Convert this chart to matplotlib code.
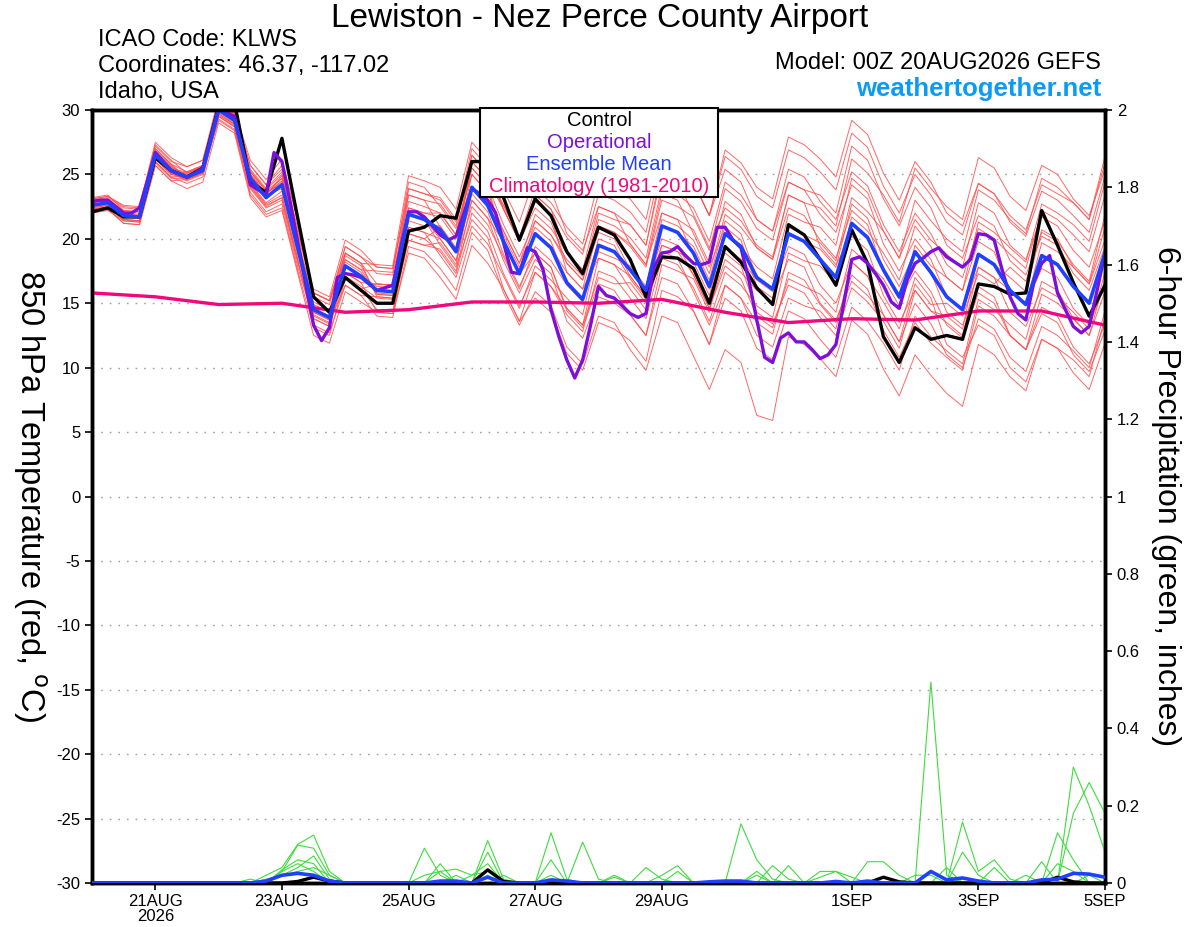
import numpy as np
import matplotlib
matplotlib.use("Agg")
import matplotlib.pyplot as plt
from matplotlib.patches import Rectangle

plt.rcParams['font.family'] = ['Liberation Sans', 'DejaVu Sans']
plt.rcParams['axes.unicode_minus'] = False

# forecast hours from 00Z 20AUG2026
hours = np.arange(0, 385, 6)
op_hours = np.arange(0, 385, 3)
clim_hours = np.arange(0, 385, 24)

tick_hours = [24, 72, 120, 168, 216, 288, 336, 384]
tick_labels = ['21AUG\n2026', '23AUG', '25AUG', '27AUG', '29AUG', '1SEP', '3SEP', '5SEP']

# 850 hPa temperature, deg C
control = [22.1, 22.4, 21.7, 21.7, 26.3, 25.3, 24.8, 25.5, 30.3, 30.6, 24.4, 23.6, 27.8, 21.6, 15.5, 14.3,
           17.0, 16.0, 15.0, 15.0, 20.6, 20.9, 21.8, 21.6, 26.0, 26.0, 23.2, 19.9, 23.1, 21.8, 19.0, 17.3,
           20.9, 20.3, 18.4, 15.5, 18.6, 18.5, 17.7, 15.0, 19.4, 18.2, 16.2, 14.9, 21.1, 20.3, 18.4, 16.4,
           20.7, 18.1, 12.4, 10.4, 13.1, 12.2, 12.5, 12.2, 16.5, 16.3, 15.7, 15.8, 22.2, 19.5, 16.6, 14.0, 16.4]

ens_mean = [22.6, 22.8, 21.8, 21.7, 26.5, 25.3, 24.8, 25.3, 30.0, 29.2, 24.7, 23.2, 24.2, 19.3, 14.5, 13.9,
            17.9, 17.1, 16.0, 15.9, 21.9, 21.5, 20.7, 19.0, 24.0, 22.6, 19.8, 17.3, 20.4, 19.3, 16.6, 15.3,
            19.5, 19.0, 17.6, 16.0, 21.0, 20.5, 18.9, 16.3, 20.4, 19.4, 17.0, 16.1, 20.4, 19.8, 18.4, 17.0,
            21.2, 20.1, 17.6, 15.5, 19.0, 17.4, 15.5, 14.5, 18.8, 18.0, 16.0, 14.9, 18.7, 18.0, 16.3, 15.0, 18.9]

operational = [22.9, 23.0, 23.0, 22.5, 22.0, 22.0, 22.4, 24.5, 26.7, 26.0, 25.3, 25.0, 24.8, 25.1, 25.5, 27.8,
               30.2, 29.8, 29.5, 27.0, 24.2, 23.8, 23.4, 26.7, 26.0, 23.0, 19.7, 16.5, 13.3, 12.1, 13.1, 17.0,
               17.3, 17.2, 17.0, 16.5, 16.0, 16.2, 16.4, 19.3, 22.1, 22.1, 21.7, 21.0, 20.3, 19.9, 20.2, 22.0,
               23.9, 23.5, 23.0, 22.0, 19.7, 17.4, 17.3, 19.3, 19.0, 17.6, 14.5, 12.4, 10.6, 9.2, 10.6, 13.3,
               16.3, 15.6, 15.4, 14.8, 14.2, 13.9, 14.2, 17.8, 18.9, 19.0, 19.4, 18.7, 18.1, 18.0, 18.2, 20.9,
               20.9, 19.9, 19.3, 16.8, 13.7, 10.8, 10.4, 12.3, 12.7, 12.0, 12.0, 11.4, 10.7, 11.0, 11.8, 15.0,
               18.4, 18.6, 18.1, 17.3, 16.4, 15.1, 14.6, 16.8, 18.1, 18.5, 19.0, 19.3, 18.6, 18.2, 17.8, 18.4,
               20.4, 20.3, 19.9, 17.6, 15.5, 14.2, 13.7, 16.6, 18.1, 18.7, 15.8, 14.5, 13.2, 12.7, 13.2, 16.0, 18.9]

climatology = [15.8, 15.5, 14.9, 15.0, 14.3, 14.5, 15.1, 15.1, 15.0, 15.3, 14.3, 13.5, 13.8, 13.7, 14.4, 14.4, 13.3]

# ensemble members
ens_01 = [22.9, 23.1, 22.2, 22.1, 27.0, 25.8, 25.2, 25.7, 30.3, 29.5, 25.4, 23.9, 25.2, 20.3, 15.8, 15.2,
          19.4, 18.6, 17.8, 17.7, 23.9, 23.5, 23.0, 21.3, 26.5, 25.1, 22.6, 20.1, 23.4, 22.3, 20.1, 18.8,
          23.5, 23.0, 22.1, 20.5, 26.0, 25.5, 24.4, 21.8, 26.4, 25.4, 23.3, 22.4, 26.9, 26.3, 25.2, 23.8,
          28.2, 27.1, 24.1, 22.0, 25.0, 23.4, 21.3, 20.3, 24.3, 23.5, 21.3, 20.2, 23.7, 23.0, 21.8, 20.5, 24.9]
ens_02 = [22.3, 22.5, 21.4, 21.3, 26.0, 24.8, 24.3, 24.8, 29.5, 28.7, 24.0, 22.5, 23.2, 18.3, 13.3, 12.7,
          16.4, 15.6, 14.0, 13.9, 19.4, 19.0, 17.7, 16.0, 20.5, 19.1, 15.8, 13.3, 15.9, 14.8, 11.6, 10.3,
          14.0, 13.5, 11.4, 9.8, 14.0, 13.5, 10.9, 8.3, 11.4, 10.4, 6.3, 5.9, 12.4, 11.8, 10.7, 9.3,
          13.7, 12.6, 9.9, 7.8, 11.0, 9.4, 8.0, 7.0, 11.8, 11.0, 9.3, 8.2, 12.2, 11.5, 9.6, 8.3, 11.9]
ens_03 = [23.1, 23.3, 22.6, 22.5, 27.5, 26.3, 25.6, 26.1, 30.5, 29.7, 25.7, 24.2, 25.7, 20.8, 15.8, 15.2,
          18.9, 18.1, 18.0, 17.9, 24.9, 24.5, 24.0, 22.3, 27.5, 26.1, 23.8, 21.3, 24.9, 23.8, 20.4, 19.1,
          22.5, 22.0, 21.1, 19.5, 25.0, 24.5, 21.9, 19.3, 22.4, 21.4, 19.5, 18.6, 23.4, 22.8, 22.4, 21.0,
          26.2, 25.1, 23.4, 21.3, 25.5, 23.9, 22.5, 21.5, 26.3, 25.5, 23.3, 22.2, 25.7, 25.0, 23.1, 21.8, 25.4]
ens_04 = [22.1, 22.3, 21.2, 21.1, 25.7, 24.5, 23.9, 24.4, 29.0, 28.2, 23.2, 21.7, 22.2, 17.3, 12.5, 11.9,
          15.9, 15.1, 14.3, 14.2, 20.4, 20.0, 19.0, 17.3, 22.0, 20.6, 17.3, 14.8, 17.4, 16.3, 14.6, 13.3,
          18.5, 18.0, 17.1, 15.5, 21.0, 20.5, 19.4, 16.8, 21.4, 20.4, 17.0, 16.1, 19.4, 18.8, 16.4, 15.0,
          18.2, 17.1, 14.1, 12.0, 15.0, 13.4, 11.0, 10.0, 13.8, 13.0, 10.8, 9.7, 13.2, 12.5, 11.3, 10.0, 14.4]
ens_05 = [22.8, 23.0, 21.9, 21.8, 26.5, 25.3, 25.1, 25.6, 30.5, 29.7, 25.2, 23.7, 24.7, 19.8, 15.5, 14.9,
          19.4, 18.6, 17.3, 17.2, 22.9, 22.5, 22.0, 20.3, 25.5, 24.1, 21.1, 18.6, 21.4, 20.3, 18.1, 16.8,
          21.5, 21.0, 20.1, 18.5, 24.0, 23.5, 22.4, 19.8, 24.4, 23.4, 21.5, 20.6, 25.4, 24.8, 22.9, 21.5,
          25.2, 24.1, 21.1, 19.0, 22.0, 20.4, 18.0, 17.0, 20.8, 20.0, 18.8, 17.7, 22.2, 21.5, 20.3, 19.0, 23.4]
ens_06 = [22.4, 22.6, 21.9, 21.8, 26.8, 25.6, 24.8, 25.3, 29.7, 28.9, 24.3, 22.8, 23.7, 18.8, 14.5, 13.9,
          18.4, 17.6, 15.8, 15.7, 20.9, 20.5, 20.0, 18.3, 23.5, 22.1, 18.8, 16.3, 18.9, 17.8, 14.4, 13.1,
          16.5, 16.0, 14.1, 12.5, 17.0, 16.5, 14.4, 11.8, 15.4, 14.4, 11.5, 10.6, 14.4, 13.8, 12.2, 10.8,
          14.7, 13.6, 11.9, 9.8, 14.0, 12.4, 11.3, 10.3, 15.3, 14.5, 13.3, 12.2, 16.7, 16.0, 13.8, 12.5, 15.9]
ens_07 = [23.0, 23.2, 22.4, 22.3, 27.2, 26.0, 25.6, 26.1, 31.0, 30.2, 25.2, 23.7, 24.2, 19.3, 14.0, 13.4,
          16.9, 16.1, 16.5, 16.4, 23.9, 23.5, 23.2, 21.5, 27.0, 25.6, 22.3, 19.8, 22.4, 21.3, 18.1, 16.8,
          20.5, 20.0, 17.6, 16.0, 20.0, 19.5, 17.2, 14.6, 17.9, 16.9, 14.0, 13.1, 16.9, 16.3, 15.7, 14.3,
          19.2, 18.1, 16.9, 14.8, 19.5, 17.9, 17.0, 16.0, 21.3, 20.5, 19.3, 18.2, 22.7, 22.0, 21.1, 19.8, 24.4]
ens_08 = [22.2, 22.4, 21.5, 21.4, 26.2, 25.0, 24.7, 25.2, 30.0, 29.2, 25.0, 23.5, 24.7, 19.8, 14.5, 13.9,
          17.4, 16.6, 14.3, 14.2, 18.9, 18.5, 17.0, 15.3, 19.5, 18.1, 16.1, 13.6, 17.4, 16.3, 14.1, 12.8,
          17.5, 17.0, 15.4, 13.8, 18.5, 18.0, 16.2, 13.6, 17.4, 16.4, 14.8, 13.9, 18.9, 18.3, 17.9, 16.5,
          21.7, 20.6, 18.9, 16.8, 21.0, 19.4, 17.0, 16.0, 19.8, 19.0, 16.0, 14.9, 17.7, 17.0, 14.6, 13.3, 16.4]
ens_09 = [22.7, 22.9, 22.0, 21.9, 26.8, 25.6, 24.6, 25.1, 29.3, 28.5, 23.6, 22.1, 22.7, 17.8, 13.8, 13.2,
          17.9, 17.1, 16.3, 16.2, 22.4, 22.0, 22.0, 20.3, 26.0, 24.6, 22.6, 20.1, 23.9, 22.8, 20.9, 19.6,
          24.5, 24.0, 23.1, 21.5, 27.0, 26.5, 24.4, 21.8, 25.4, 24.4, 21.5, 20.6, 24.4, 23.8, 21.9, 20.5,
          24.2, 23.1, 19.6, 17.5, 20.0, 18.4, 15.5, 14.5, 17.8, 17.0, 14.3, 13.2, 16.2, 15.5, 14.3, 13.0, 17.4]
ens_10 = [22.5, 22.7, 21.5, 21.4, 26.0, 24.8, 24.9, 25.4, 30.7, 29.9, 25.7, 24.2, 25.4, 20.5, 16.1, 15.5,
          19.9, 19.1, 17.8, 17.7, 23.4, 23.0, 20.9, 19.2, 23.0, 21.6, 18.3, 15.8, 18.4, 17.3, 13.6, 12.3,
          15.5, 15.0, 14.1, 12.5, 18.0, 17.5, 16.9, 14.3, 19.4, 18.4, 16.8, 15.9, 20.9, 20.3, 19.7, 18.3,
          23.2, 22.1, 20.6, 18.5, 23.0, 21.4, 20.0, 19.0, 23.8, 23.0, 21.5, 20.4, 24.7, 24.0, 22.8, 21.5, 25.9]
ens_11 = [23.2, 23.4, 22.2, 22.1, 26.7, 25.5, 25.0, 25.5, 30.2, 29.4, 25.0, 23.5, 24.5, 19.6, 14.3, 13.7,
          17.1, 16.3, 15.4, 15.3, 21.4, 21.0, 21.0, 19.3, 25.0, 23.6, 20.6, 18.1, 20.9, 19.8, 16.6, 15.3,
          19.0, 18.5, 17.9, 16.3, 22.0, 21.5, 20.7, 18.1, 22.9, 21.9, 19.3, 18.4, 22.4, 21.8, 19.9, 18.5,
          22.2, 21.1, 17.4, 15.3, 17.5, 15.9, 13.3, 12.3, 15.8, 15.0, 12.5, 11.4, 14.7, 14.0, 11.6, 10.3, 13.4]
ens_12 = [22.0, 22.2, 21.4, 21.3, 26.3, 25.1, 24.6, 25.1, 29.8, 29.0, 24.2, 22.7, 23.4, 18.5, 14.6, 14.0,
          18.9, 18.1, 16.5, 16.4, 21.9, 21.5, 19.5, 17.8, 21.5, 20.1, 16.1, 13.6, 15.4, 14.3, 11.1, 9.8,
          13.5, 13.0, 12.1, 10.5, 16.0, 15.5, 14.4, 11.8, 16.4, 15.4, 13.5, 12.6, 17.4, 16.8, 14.9, 13.5,
          17.2, 16.1, 12.9, 10.8, 13.5, 11.9, 10.8, 9.8, 14.8, 14.0, 12.5, 11.4, 15.7, 15.0, 13.8, 12.5, 16.9]
ens_13 = [22.9, 23.1, 21.8, 21.7, 26.2, 25.0, 25.1, 25.6, 30.8, 30.0, 26.1, 24.6, 26.2, 21.3, 15.8, 15.2,
          18.4, 17.6, 17.5, 17.4, 24.4, 24.0, 22.5, 20.8, 25.0, 23.6, 20.3, 17.8, 20.4, 19.3, 17.4, 16.1,
          21.0, 20.5, 19.4, 17.8, 23.0, 22.5, 21.7, 19.1, 23.9, 22.9, 20.8, 19.9, 24.4, 23.8, 23.4, 22.0,
          27.2, 26.1, 23.1, 21.0, 24.0, 22.4, 19.5, 18.5, 21.8, 21.0, 18.3, 17.2, 20.2, 19.5, 17.3, 16.0, 19.4]
ens_14 = [22.3, 22.5, 21.9, 21.8, 27.0, 25.8, 24.7, 25.2, 29.2, 28.4, 23.4, 21.9, 22.4, 17.5, 13.1, 12.5,
          16.9, 16.1, 14.5, 14.4, 19.9, 19.5, 19.7, 18.0, 24.0, 22.6, 20.6, 18.1, 21.9, 20.8, 18.9, 17.6,
          22.5, 22.0, 19.6, 18.0, 22.0, 21.5, 18.7, 16.1, 18.9, 17.9, 14.3, 13.4, 16.4, 15.8, 13.9, 12.5,
          16.2, 15.1, 13.6, 11.5, 16.0, 14.4, 13.5, 12.5, 17.8, 17.0, 16.0, 14.9, 19.7, 19.0, 17.8, 16.5, 20.9]
ens_15 = [22.6, 22.8, 21.5, 21.4, 25.9, 24.7, 24.7, 25.2, 30.3, 29.5, 25.3, 23.8, 25.0, 20.1, 14.9, 14.3,
          17.9, 17.1, 16.0, 15.9, 21.9, 21.5, 20.0, 18.3, 22.5, 21.1, 18.6, 16.1, 19.4, 18.3, 16.4, 15.1,
          20.0, 19.5, 17.1, 15.5, 19.5, 19.0, 18.2, 15.6, 20.4, 19.4, 17.8, 16.9, 21.9, 21.3, 20.9, 19.5,
          24.7, 23.6, 20.6, 18.5, 21.5, 19.9, 18.8, 17.8, 22.8, 22.0, 19.5, 18.4, 21.7, 21.0, 19.1, 17.8, 21.4]
ens_16 = [23.1, 23.3, 22.5, 22.4, 27.3, 26.1, 25.1, 25.6, 29.7, 28.9, 24.1, 22.6, 23.2, 18.3, 13.8, 13.2,
          17.4, 16.6, 16.5, 16.4, 23.4, 23.0, 22.7, 21.0, 26.5, 25.1, 22.3, 19.8, 22.9, 21.8, 17.4, 16.1,
          18.5, 18.0, 16.1, 14.5, 19.0, 18.5, 15.9, 13.3, 16.4, 15.4, 12.5, 11.6, 15.4, 14.8, 14.4, 13.0,
          18.2, 17.1, 15.1, 13.0, 17.0, 15.4, 11.8, 10.8, 13.3, 12.5, 10.0, 8.9, 12.2, 11.5, 10.6, 9.3, 13.9]
ens_17 = [22.1, 22.3, 21.2, 21.1, 25.7, 24.5, 24.6, 25.1, 30.4, 29.6, 25.0, 23.5, 24.4, 19.5, 15.1, 14.5,
          18.9, 18.1, 15.5, 15.4, 19.9, 19.5, 19.2, 17.5, 23.0, 21.6, 19.8, 17.3, 21.4, 20.3, 18.4, 17.1,
          22.0, 21.5, 21.1, 19.5, 25.5, 25.0, 24.4, 21.8, 26.9, 25.9, 24.0, 23.1, 27.9, 27.3, 26.2, 24.8,
          29.2, 28.1, 25.1, 23.0, 26.0, 24.4, 22.0, 21.0, 24.3, 23.5, 21.8, 20.7, 24.2, 23.5, 22.8, 21.5, 26.4]
ens_18 = [22.8, 23.0, 22.1, 22.0, 26.9, 25.7, 24.8, 25.3, 29.6, 28.8, 24.9, 23.4, 24.9, 20.0, 14.1, 13.5,
          16.4, 15.6, 15.5, 15.4, 22.4, 22.0, 21.7, 20.0, 25.5, 24.1, 19.8, 17.3, 18.9, 17.8, 14.6, 13.3,
          17.0, 16.5, 16.6, 15.0, 21.5, 21.0, 19.9, 17.3, 21.9, 20.9, 19.3, 18.4, 23.4, 22.8, 19.4, 18.0,
          20.2, 19.1, 15.6, 13.5, 16.0, 14.4, 14.0, 13.0, 18.8, 18.0, 17.0, 15.9, 20.7, 20.0, 17.8, 16.5, 19.9]
ens_19 = [22.4, 22.6, 21.8, 21.7, 26.6, 25.4, 25.2, 25.7, 30.6, 29.8, 24.9, 23.4, 23.9, 19.0, 14.5, 13.9,
          18.2, 17.4, 15.7, 15.6, 20.9, 20.5, 18.7, 17.0, 21.0, 19.6, 17.1, 14.6, 17.9, 16.8, 15.4, 14.1,
          19.5, 19.0, 16.9, 15.3, 19.5, 19.0, 17.2, 14.6, 18.4, 17.4, 16.0, 15.1, 20.4, 19.8, 19.2, 17.8,
          22.7, 21.6, 18.4, 16.3, 19.0, 17.4, 14.3, 13.3, 16.3, 15.5, 12.5, 11.4, 14.2, 13.5, 11.0, 9.7, 12.9]
ens_20 = [22.6, 22.8, 21.7, 21.6, 26.3, 25.1, 24.5, 25.0, 29.5, 28.7, 23.9, 22.4, 23.0, 18.1, 14.3, 13.7,
          18.7, 17.9, 15.7, 15.6, 20.4, 20.0, 20.9, 19.2, 26.0, 24.6, 22.3, 19.8, 23.4, 22.3, 18.9, 17.6,
          21.0, 20.5, 19.6, 18.0, 23.5, 23.0, 20.4, 17.8, 20.9, 19.9, 16.3, 15.4, 18.4, 17.8, 15.0, 13.7,
          16.7, 15.6, 14.1, 12.0, 16.5, 14.9, 15.0, 14.0, 17.3, 16.5, 17.8, 16.7, 20.5, 19.8, 18.0, 16.7, 21.9]
members = [ens_01, ens_02, ens_03, ens_04, ens_05, ens_06, ens_07, ens_08, ens_09, ens_10,
           ens_11, ens_12, ens_13, ens_14, ens_15, ens_16, ens_17, ens_18, ens_19, ens_20]

# 6-hour precipitation (inches), only non-zero steps listed (step index: value)
pcp_01 = {11: 0.02, 12: 0.04, 13: 0.10, 14: 0.124, 15: 0.03, 22: 0.05, 25: 0.11, 26: 0.01, 29: 0.13,
          30: 0.01, 41: 0.153, 42: 0.06, 43: 0.01, 53: 0.52, 54: 0.02, 62: 0.30, 63: 0.20, 64: 0.08}
pcp_02 = {12: 0.03, 13: 0.098, 14: 0.09, 15: 0.02, 21: 0.09, 22: 0.02, 25: 0.08, 31: 0.106, 32: 0.01,
          55: 0.158, 56: 0.03, 57: 0.06, 58: 0.01, 62: 0.18, 63: 0.26, 64: 0.18}
pcp_03 = {12: 0.034, 13: 0.06, 14: 0.05, 22: 0.03, 23: 0.036, 24: 0.02, 25: 0.05, 29: 0.06, 36: 0.02,
          37: 0.045, 43: 0.045, 44: 0.01, 49: 0.055, 50: 0.055, 51: 0.02, 55: 0.08, 56: 0.02, 61: 0.13, 62: 0.06}
pcp_04 = {11: 0.01, 12: 0.02, 13: 0.04, 14: 0.07, 15: 0.01, 21: 0.02, 22: 0.03, 24: 0.02, 25: 0.03,
          33: 0.02, 35: 0.04, 36: 0.01, 42: 0.03, 44: 0.045, 46: 0.03, 47: 0.03, 54: 0.04, 57: 0.04, 60: 0.055}
pcp_05 = {10: 0.01, 12: 0.03, 13: 0.05, 14: 0.03, 23: 0.02, 26: 0.02, 33: 0.015, 37: 0.03, 46: 0.015,
          47: 0.03, 48: 0.015, 52: 0.02, 53: 0.02, 59: 0.02, 61: 0.05, 62: 0.03}
pcp_06 = {12: 0.02, 13: 0.03, 14: 0.04, 15: 0.02, 25: 0.02, 29: 0.02, 42: 0.02, 53: 0.03, 54: 0.01, 63: 0.02}
pcp_members = [pcp_01, pcp_02, pcp_03, pcp_04, pcp_05, pcp_06]
pcp_mean = {11: 0.005, 12: 0.02, 13: 0.025, 14: 0.02, 15: 0.005, 22: 0.005, 23: 0.005, 25: 0.015,
            29: 0.008, 30: 0.005, 39: 0.003, 40: 0.005, 41: 0.005, 47: 0.004, 49: 0.005, 53: 0.03,
            54: 0.008, 55: 0.013, 56: 0.005, 60: 0.008, 61: 0.01, 62: 0.025, 63: 0.023, 64: 0.015}
pcp_control = {13: 0.004, 14: 0.015, 15: 0.005, 25: 0.034, 26: 0.004, 50: 0.015, 51: 0.003,
               61: 0.015, 62: 0.003}


def to_series(events):
    vals = np.zeros(len(hours))
    for k, v in events.items():
        vals[k] = v
    return vals


RED = '#ff4d4d'
GREEN = '#3ddc3d'
PURPLE = '#7d0fd8'
BLUE = '#2040ff'
PINK = '#f0087c'

fig = plt.figure(figsize=(12, 9.27), dpi=100)
ax = fig.add_axes([92 / 1200, 1 - 883 / 927, (1105 - 92) / 1200, (883 - 110) / 927])

for m in members:
    ax.plot(hours, m, color=RED, lw=0.7, alpha=0.85, zorder=2)
ax.plot(clim_hours, climatology, color=PINK, lw=2.4, zorder=3)
ax.plot(hours, control, color='black', lw=2.4, zorder=4)
ax.plot(op_hours, operational, color=PURPLE, lw=2.4, zorder=5)
ax.plot(hours, ens_mean, color=BLUE, lw=2.6, zorder=6)

ax.set_xlim(0, 384)
ax.set_ylim(-30, 30)
ax.set_yticks(np.arange(-30, 31, 5))
ax.set_xticks(tick_hours)
ax.set_xticklabels(tick_labels, linespacing=1.0)
ax.tick_params(axis='both', labelsize=12, length=5, width=1.2, direction='out')
ax.tick_params(axis='x', pad=3)
for y in range(-25, 30, 5):
    ax.axhline(y, color='#a0a0a0', lw=1, linestyle=(0, (1.2, 5)), zorder=1)
for s in ax.spines.values():
    s.set_linewidth(2.5)

ax2 = ax.twinx()
for p in pcp_members:
    ax2.plot(hours, to_series(p), color=GREEN, lw=0.8, zorder=2)
ax2.plot(hours, to_series(pcp_control), color='black', lw=2.4, zorder=3)
ax2.plot(hours, to_series(pcp_mean), color=BLUE, lw=2.6, zorder=4)
ax2.set_ylim(0, 2)
ax2.set_yticks(np.arange(0, 2.01, 0.2))
ax2.set_yticklabels(['0', '0.2', '0.4', '0.6', '0.8', '1', '1.2', '1.4', '1.6', '1.8', '2'])
ax2.tick_params(axis='y', labelsize=12, length=5, width=1.2, direction='out')
for s in ax2.spines.values():
    s.set_linewidth(2.5)

# legend box
fig.add_artist(Rectangle((480 / 1200, 1 - 197 / 927), 238 / 1200, 89 / 927,
                         transform=fig.transFigure, facecolor='white', edgecolor='black', lw=1.5, zorder=10))
leg_items = [('Control', 'black'), ('Operational', PURPLE),
             ('Ensemble Mean', BLUE), ('Climatology (1981-2010)', PINK)]
for n, (txt, col) in enumerate(leg_items):
    fig.text(599 / 1200, 1 - (121 + 21.7 * n) / 927, txt, color=col, fontsize=14.5,
             ha='center', va='center', zorder=11)

fig.text(0.5, 1 - 18 / 927, 'Lewiston - Nez Perce County Airport', fontsize=24, ha='center', va='center')
fig.text(98 / 1200, 1 - 40 / 927, 'ICAO Code: KLWS', fontsize=17, ha='left', va='center')
fig.text(98 / 1200, 1 - 66 / 927, 'Coordinates: 46.37, -117.02', fontsize=17, ha='left', va='center')
fig.text(98 / 1200, 1 - 92 / 927, 'Idaho, USA', fontsize=17, ha='left', va='center')
fig.text(1101 / 1200, 1 - 63 / 927, 'Model: 00Z 20AUG2026 GEFS', fontsize=17, ha='right', va='center')
fig.text(1101 / 1200, 1 - 89 / 927, 'weathertogether.net', fontsize=18.5, fontweight='bold',
         color='#0a9cf5', ha='right', va='center')

fig.text(30 / 1200, 1 - 496 / 927, r'850 hPa Temperature (red, $^{\rm o}$C)', fontsize=23.5,
         rotation=270, ha='center', va='center')
fig.text(1166 / 1200, 1 - 496 / 927, '6-hour Precipitation (green, inches)', fontsize=23,
         rotation=270, ha='center', va='center')

fig.savefig('out.png', dpi=100)
